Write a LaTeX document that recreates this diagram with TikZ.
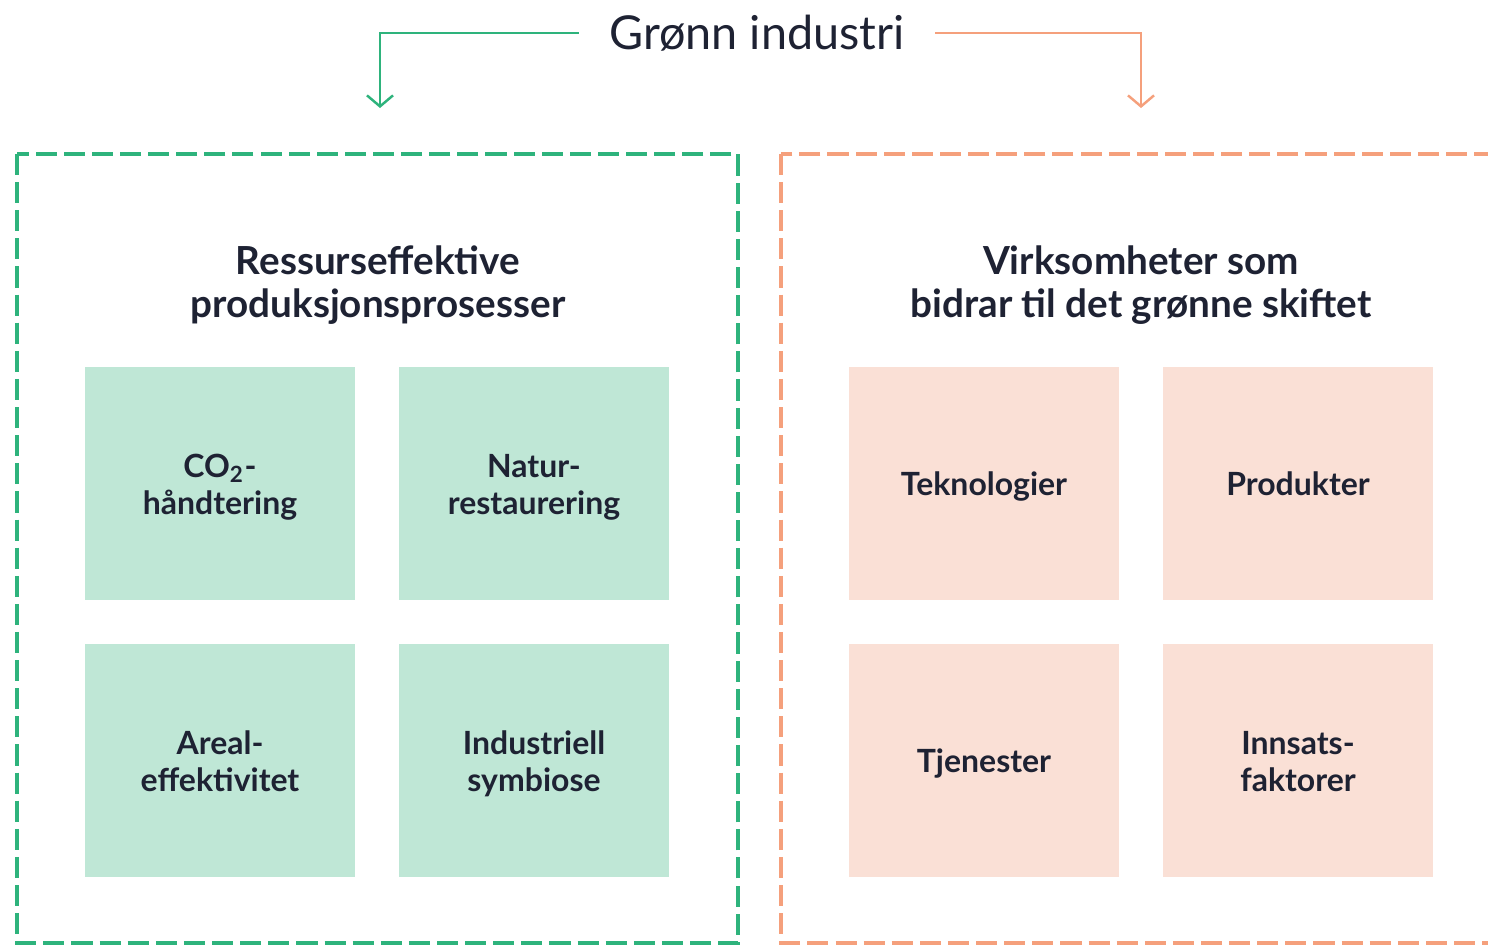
\documentclass[tikz,border=0pt]{standalone}
\usepackage{fontspec}
\setmainfont{Lato}
\usepackage{tikz}
\usetikzlibrary{arrows.meta}
\definecolor{gruen}{RGB}{46,179,124}
\definecolor{gruenfill}{RGB}{191,231,214}
\definecolor{oransje}{RGB}{245,160,124}
\definecolor{oransjefill}{RGB}{250,224,214}
\definecolor{ink}{RGB}{30,34,51}

\tikzset{
	heading/.style={text=ink, align=center, font=\bfseries\fontsize{11}{12.3}\selectfont},
	cell/.style={minimum width=27mm, minimum height=23.3mm, inner sep=0pt, text=ink, align=center, font=\bfseries\fontsize{9.1}{10.6}\selectfont,
		execute at end node={\rule[-2.3pt]{0pt}{0pt}}},
	greencell/.style={cell, fill=gruenfill},
	orangecell/.style={cell, fill=oransjefill},
	frame/.style={line width=1pt, dash pattern=on 6pt off 2pt}
}

\begin{document}
\begin{tikzpicture}[x=0.1mm,y=-0.1mm,>={Straight Barb[length=1.1mm,width=2.6mm]}]
	\useasboundingbox (0,0) rectangle (1488,945);
	
	%the title
	\node[text=ink, font=\fontsize{13.3}{15}\selectfont, inner xsep=3mm] (title) at (757,33) {Grønn industri};
	
	% the arrows
	\coordinate (lefttip) at (380,108);
	\coordinate (righttip) at (1141,108);
	\draw[->, gruen, line width=0.7pt] (title.west) -| (lefttip);
	\draw[->, oransje, line width=0.7pt] (title.east) -| (righttip);
	
	% the frames
	\draw[frame, gruen] (17,154) rectangle (738,943);
	\draw[frame, oransje] (781,154) rectangle (1530,943);
	
	% the headings
	\node[heading] (ressurs) at (378,285) {Ressurseffektive\\produksjonsprosesser};
	\node[heading] (virksomhet) at (1141,285) {Virksomheter som\\bidrar til det grønne skiftet};
	
	% the cells
	\foreach \nm/\x/\y/\txt in {co/220/483/{CO\textsubscript{2}-\\håndtering}, natur/534/483/{Natur-\\restaurering}, areal/220/760/{Areal-\\effektivitet}, symb/534/760/{Industriell\\symbiose}}
		\node[greencell] (\nm) at (\x,\y) {\rule{0pt}{9.5pt}\txt};
	
	\foreach \nm/\x/\y/\txt in {tek/984/483/{Teknologier}, prod/1298/483/{Produkter}, tjen/984/760/{Tjenester}, innsats/1298/760/{Innsats-\\faktorer}}
		\node[orangecell] (\nm) at (\x,\y) {\rule{0pt}{9.5pt}\txt};
	
\end{tikzpicture}
\end{document}
